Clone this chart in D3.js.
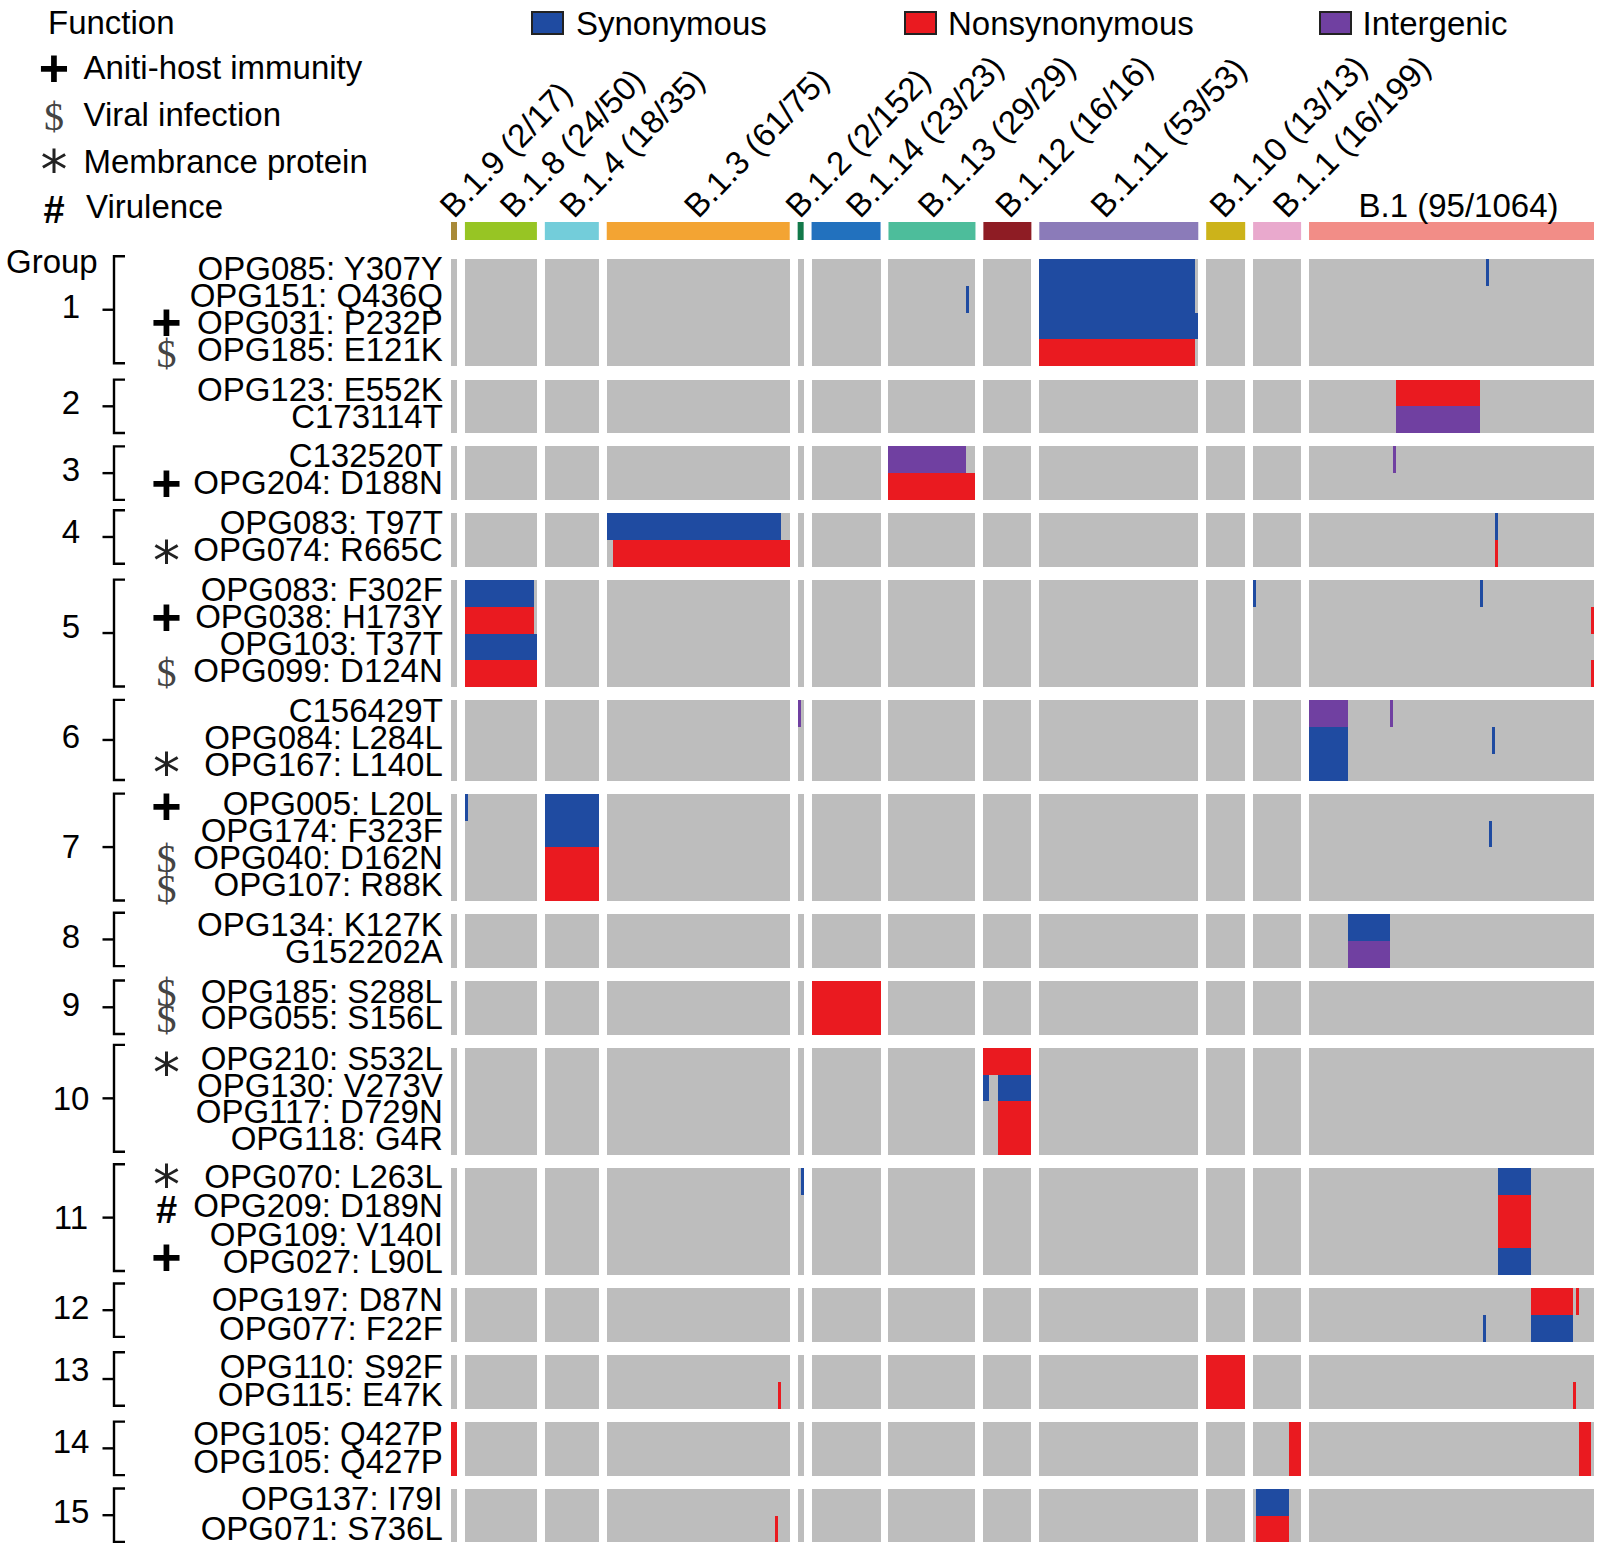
<!DOCTYPE html>
<html>
<head>
<meta charset="utf-8">
<style>
html,body{margin:0;padding:0;background:#fff}
svg{display:block}
text{font-family:"Liberation Sans",Arial,sans-serif;fill:#000}
</style>
<script src="https://cdnjs.cloudflare.com/ajax/libs/d3/7.8.5/d3.min.js"></script>
</head>
<body>
<svg id="chart" width="1600" height="1553"></svg>
<script>
const lineages = ["B.1.9","B.1.8","B.1.4","B.1.3","B.1.2","B.1.14","B.1.13","B.1.12","B.1.11","B.1.10","B.1.1","B.1"];
const shownSamples = [2,24,18,61,2,23,29,16,53,13,16,95];
const totalSamples = [17,50,35,75,152,23,29,16,53,13,199,1064];
const lineageColors = ["#A98A38","#97C524","#73CDDA","#F3A433","#12794A","#2271BE","#4DBD9B","#8E1C24","#8B7BB9","#CCB31A","#E9A9CD","#F28D87"];
const rowLabels = ["OPG085: Y307Y","OPG151: Q436Q","OPG031: P232P","OPG185: E121K","OPG123: E552K","C173114T","C132520T","OPG204: D188N","OPG083: T97T","OPG074: R665C","OPG083: F302F","OPG038: H173Y","OPG103: T37T","OPG099: D124N","C156429T","OPG084: L284L","OPG167: L140L","OPG005: L20L","OPG174: F323F","OPG040: D162N","OPG107: R88K","OPG134: K127K","G152202A","OPG185: S288L","OPG055: S156L","OPG210: S532L","OPG130: V273V","OPG117: D729N","OPG118: G4R","OPG070: L263L","OPG209: D189N","OPG109: V140I","OPG027: L90L","OPG197: D87N","OPG077: F22F","OPG110: S92F","OPG115: E47K","OPG105: Q427P","OPG105: Q427P","OPG137: I79I","OPG071: S736L"];
const rowGroups = [1,1,1,1,2,2,3,3,4,4,5,5,5,5,6,6,6,7,7,7,7,8,8,9,9,10,10,10,10,11,11,11,11,12,12,13,13,14,14,15,15];
const rowFunctions = ["","","+","$","","","","+","","*","","+","","$","","","*","+","","$","$","","","$","$","*","","","","*","#","","+","","","","","","","",""];
const functionKeys = ["+","$","*","#"];
const functionNames = ["Aniti-host immunity","Viral infection","Membrance protein","Virulence"];
const typeNames = ["Synonymous","Nonsynonymous","Intergenic"];
const typeColors = ["#1F4BA1","#EA1A20","#7040A1"];
const missingColor = "#BDBDBD";
// [row, lineage, first column, end column (exclusive)]
const synonymousSpans = [
 [0,8,0,52],[1,8,0,52],[2,8,0,53],[1,6,26,27],[0,11,59,60],
 [8,3,0,58],[8,11,62,63],
 [10,1,0,23],[12,1,0,24],[10,10,0,1],[10,11,57,58],
 [15,11,0,13],[16,11,0,13],[15,11,61,62],
 [17,1,0,1],[17,2,0,18],[18,2,0,18],[18,11,60,61],
 [21,11,13,27],
 [26,7,0,2],[26,7,5,16],
 [29,4,1,2],[29,11,63,74],[32,11,63,74],
 [34,11,74,88],[34,11,58,59],
 [39,10,1,12]
];
const nonsynonymousSpans = [
 [3,8,0,52],[4,11,29,57],[7,6,0,29],
 [9,3,2,61],[9,11,62,63],
 [11,1,0,23],[13,1,0,24],[11,11,94,95],[13,11,94,95],
 [19,2,0,18],[20,2,0,18],
 [23,5,0,23],[24,5,0,23],
 [25,7,0,16],[27,7,5,16],[28,7,5,16],
 [30,11,63,74],[31,11,63,74],
 [33,11,74,88],[33,11,89,90],
 [35,9,0,13],[36,9,0,13],[36,3,57,58],[36,11,88,89],
 [37,0,0,2],[38,0,0,2],[37,10,12,16],[38,10,12,16],[37,11,90,94],[38,11,90,94],
 [40,10,1,12],[40,3,56,57]
];
const intergenicSpans = [
 [5,11,29,57],[6,6,0,26],[6,11,28,29],
 [14,4,0,1],[14,11,0,13],[14,11,27,28],
 [22,11,13,27]
];

const svg = d3.select("#chart");
const spanSets = [synonymousSpans,nonsynonymousSpans,intergenicSpans];
const callType = new Map();
spanSets.forEach((set,t)=>set.forEach(([r,l,a,b])=>{
  d3.range(a,b).forEach(c=>callType.set(`${r}|${l}|${c}`,t));
}));

// horizontal layout: one column per sample, lineages separated by a fixed gap
const gapCols = 2.64;
const lineageStart = [];
shownSamples.reduce((acc,n,i)=>{lineageStart[i]=acc;return acc+n+gapCols;},0);
const totalCols = d3.sum(shownSamples)+gapCols*(lineages.length-1);
const x = d3.scaleLinear().domain([0,totalCols]).range([451,1594]);
const colX = (l,c)=>x(lineageStart[l]+c);
const colW = x(1)-x(0);

// vertical layout: rows grouped, groups separated by a fixed gap
const rowH = 26.72, groupGap = 13.4, plotTop = 259.3;
const rowTop = rowLabels.map((_,i)=>plotTop+i*rowH+(rowGroups[i]-1)*groupGap);
const yIdx = d3.scaleOrdinal().domain(d3.range(rowLabels.length)).range(rowTop);

// heat cells
const cells = [];
rowLabels.forEach((_,r)=>shownSamples.forEach((n,l)=>d3.range(n).forEach(c=>{
  const t = callType.get(`${r}|${l}|${c}`);
  cells.push({r,l,c,t});
})));
svg.append("g").attr("shape-rendering","crispEdges").selectAll("rect").data(cells).join("rect")
  .attr("x",d=>colX(d.l,d.c)).attr("width",colW+0.02)
  .attr("y",d=>yIdx(d.r)).attr("height",rowH+0.02)
  .attr("fill",d=>d.t===undefined?missingColor:typeColors[d.t]);

// top annotation bars
const annot = svg.append("g");
annot.selectAll("rect").data(lineages).join("rect")
  .attr("x",(d,i)=>colX(i,0)).attr("width",(d,i)=>shownSamples[i]*colW)
  .attr("y",222).attr("height",18)
  .attr("fill",(d,i)=>lineageColors[i]);

// lineage labels
const labelNudge = [0,13,2,0,-1,14,0,2,-14,-2,10,7];
annot.selectAll("text").data(lineages).join("text")
  .attr("font-size",33)
  .attr("transform",(d,i)=>{
    const cx = colX(i,shownSamples[i]/2)+labelNudge[i];
    return i===lineages.length-1?`translate(${cx},217)`:`translate(${cx},219.5) rotate(-46)`;
  })
  .attr("text-anchor",(d,i)=>i===lineages.length-1?"middle":"start")
  .text((d,i)=>`${d} (${shownSamples[i]}/${totalSamples[i]})`);

// row labels (the reference's baselines wander slightly from row to row)
const labelDrop = [20.7,20.7,21.3,21.2,21.1,21.4,20.9,21.2,20.7,21,20.6,20.9,21.5,21.4,21.3,22.2,22.2,21.1,21.6,21.9,21.9,21.8,21.8,21.6,21.5,22.1,22.1,22,22,19.5,21.8,24.4,24.4,22.5,24.8,23,24,22.9,23.9,21,24.3];
svg.append("g").selectAll("text").data(rowLabels).join("text")
  .attr("x",442.8).attr("y",(d,i)=>yIdx(i)+labelDrop[i])
  .attr("text-anchor","end").attr("font-size",33).text(d=>d);

// function glyphs
const glyphStyle = {
  "+":{font:'"Liberation Sans"',size:52,weight:"bold",dy:17,fill:"#000"},
  "$":{font:'"Liberation Serif"',size:40,weight:"normal",dy:14,fill:"#444"},
  "*":{font:'"DejaVu Sans"',size:54,weight:"normal",dy:26,fill:"#222"},
  "#":{font:'"Liberation Sans"',size:38,weight:"bold",dy:13,fill:"#000"}
};
function glyph(sel){
  sel.attr("text-anchor","middle")
    .style("font-family",d=>glyphStyle[d.k].font)
    .style("fill",d=>glyphStyle[d.k].fill)
    .attr("font-size",d=>glyphStyle[d.k].size)
    .attr("font-weight",d=>glyphStyle[d.k].weight)
    .attr("x",d=>d.x).attr("y",d=>d.y+glyphStyle[d.k].dy).text(d=>d.k);
}
const glyphNudge = {2:-2.8,3:0.5,7:-3,9:-0.5,11:-2,13:-2,16:-2,17:-0.5,19:-2.5,20:1,23:-2,24:-3,25:4,29:-5,30:2,32:-3.3};
svg.append("g").selectAll("text")
  .data(rowFunctions.map((k,i)=>({k,x:166.5,y:yIdx(i)+rowH/2+(glyphNudge[i]||0)})).filter(d=>d.k))
  .join("text").call(glyph);

// group brackets and numbers
const groups = d3.groups(d3.range(rowLabels.length),i=>rowGroups[i]);
const numberDrop = [5.6,8,7.9,3.2,4.2,7.8,10.3,7.4,8.2,8.7,7.4,3.8,-1.2,3.9,7];
const bracketShift = [-3,0,0,-3,-0.5,-0.5,-0.3,-1.5,-0.5,-3,-4,-5,-3,-0.5,-0.5];
const br = svg.append("g").attr("fill","none").attr("stroke","#000").attr("stroke-width",2.4);
groups.forEach(([g,idx],k)=>{
  const s = bracketShift[k];
  const cTop = yIdx(idx[0]), cBot = yIdx(idx[idx.length-1])+rowH, cMid=(cTop+cBot)/2;
  const y0 = cTop+s, y1 = cBot+s, ym=cMid+s;
  br.append("path").attr("d",d3.line()([[125,y0],[114,y0],[114,y1],[125,y1]]));
  br.append("path").attr("d",d3.line()([[102.5,ym],[114,ym]]));
  svg.append("text").attr("x",71).attr("y",cMid+numberDrop[k])
    .attr("text-anchor","middle").attr("font-size",33).text(g);
});
svg.append("text").attr("x",6).attr("y",273).attr("font-size",33).text("Group");

// function legend
svg.append("text").attr("x",48).attr("y",34).attr("font-size",33).text("Function");
const legendY = [79,125.5,173,218];
const legendX = [83.5,83.5,83.5,86];
const legendGlyphY = [69,116,162,210];
svg.append("g").selectAll("text").data(functionNames).join("text")
  .attr("x",(d,i)=>legendX[i]).attr("y",(d,i)=>legendY[i]).attr("font-size",33).text(d=>d);
svg.append("g").selectAll("text")
  .data(functionKeys.map((k,i)=>({k,x:54,y:legendGlyphY[i]})))
  .join("text").call(glyph);

// type legend
const typeBoxX = [532,905,1320];
const typeTextX = [576,948,1362.5];
const tl = svg.append("g");
tl.selectAll("rect").data(typeNames).join("rect")
  .attr("x",(d,i)=>typeBoxX[i]).attr("y",12).attr("width",31).attr("height",22)
  .attr("fill",(d,i)=>typeColors[i]).attr("stroke","#222").attr("stroke-width",2);
tl.selectAll("text").data(typeNames).join("text")
  .attr("x",(d,i)=>typeTextX[i]).attr("y",35).attr("font-size",33).text(d=>d);
</script>
</body>
</html>
